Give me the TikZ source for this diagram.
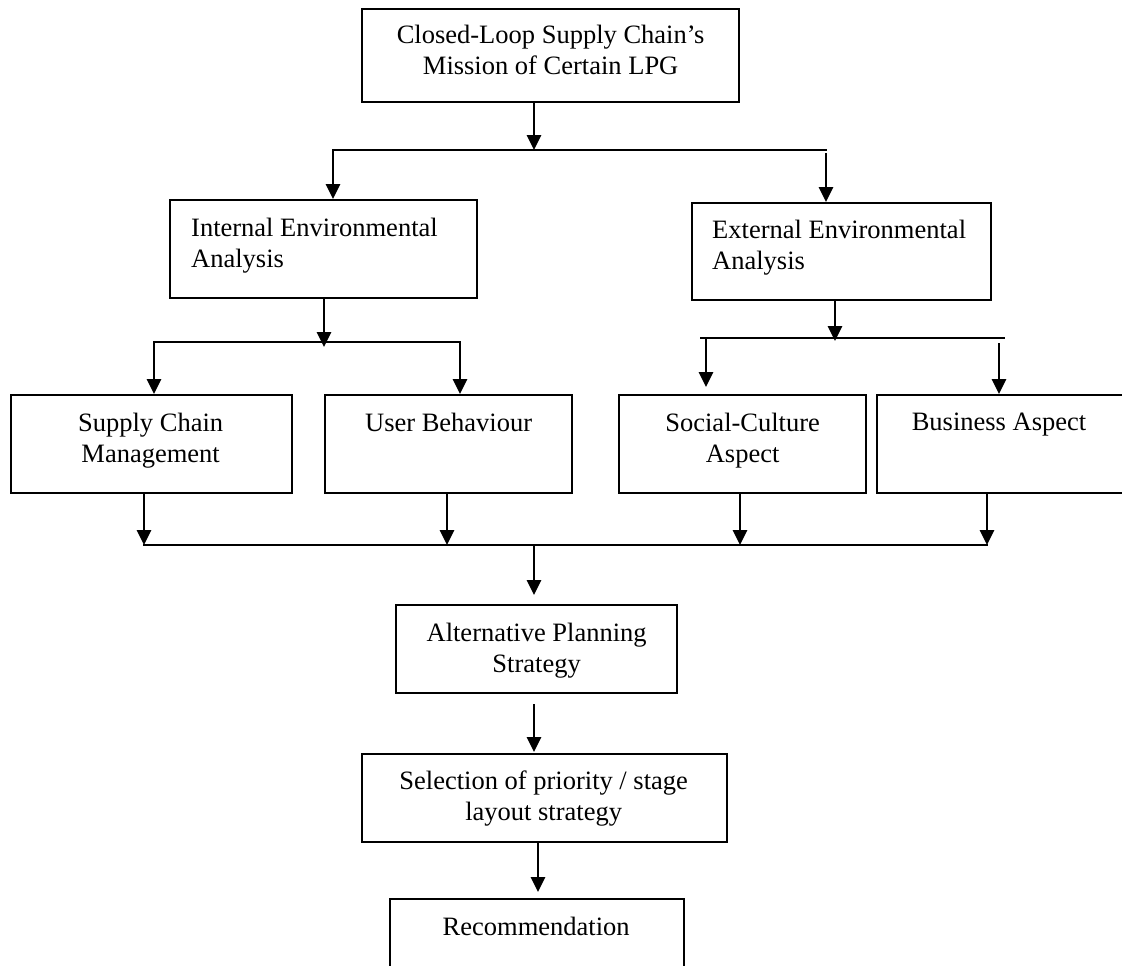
\documentclass[tikz,border=0pt]{standalone}
\usepackage{fontspec}
\setmainfont{Liberation Serif}
\usetikzlibrary{arrows.meta,calc}
\begin{document}
\begin{tikzpicture}[x=1pt,y=-1pt,
  box/.style={draw, line width=2.3pt, inner sep=0pt, anchor=north west},
  txt/.style={inner sep=0pt, font=\fontsize{26.5}{31}\selectfont, align=center, anchor=north},
  ltxt/.style={inner sep=0pt, font=\fontsize{26.5}{31}\selectfont, align=left, anchor=north west},
  arr/.style={line width=2.9pt, -{Triangle[length=15pt,width=14pt]}},
  ln/.style={line width=2.8pt, line cap=rect}]
\useasboundingbox (0,0) rectangle (1122,966);

% boxes
\node[box, minimum width=377pt, minimum height=93pt] (top) at (361,8) {};
\node[box, minimum width=307pt, minimum height=98pt] (int) at (169,199) {};
\node[box, minimum width=299pt, minimum height=97pt] (ext) at (691,202) {};
\node[box, minimum width=281pt, minimum height=98pt] (scm) at (10,394) {};
\node[box, minimum width=247pt, minimum height=98pt] (ub) at (324,394) {};
\node[box, minimum width=247pt, minimum height=98pt] (soc) at (618,394) {};
\node[box, minimum width=250pt, minimum height=98pt] (bus) at (876,394) {};
\node[box, minimum width=281pt, minimum height=88pt] (alt) at (395,604) {};
\node[box, minimum width=365pt, minimum height=88pt] (sel) at (361,753) {};
\node[box, minimum width=294pt, minimum height=100pt] (rec) at (389,898) {};

% texts
\node[txt] (ttop) at ($(top.north)+(0,17)$) {Closed-Loop Supply Chain’s\\Mission of Certain LPG};
\node[ltxt] (tint) at ($(int.north west)+(22,19)$) {Internal Environmental\\Analysis};
\node[ltxt] (text) at ($(ext.north west)+(21,18)$) {External Environmental\\Analysis};
\node[txt] (tscm) at ($(scm.north)+(-1,19)$) {Supply Chain\\Management};
\node[txt] (tub) at ($(ub.north)+(0,19)$) {User Behaviour};
\node[txt] (tsoc) at ($(soc.north)+(0,19)$) {Social-Culture\\Aspect};
\node[txt] (tbus) at (999,413) {Business Aspect};
\node[txt] (talt) at ($(alt.north)+(0,19)$) {Alternative Planning\\Strategy};
\node[txt] (tsel) at ($(sel.north)+(-1,18)$) {Selection of priority / stage\\layout strategy};
\node[txt] (trec) at ($(rec.north)+(-1,19)$) {Recommendation};

% level 1 split
\coordinate (c1) at (534,150);
\coordinate (c1l) at (333,150);
\coordinate (c1r) at (826,150);
\draw[arr] (top.south -| c1) -- (c1);
\draw[ln] (c1l) -- (c1r);
\draw[arr] (c1l) -- (c1l |- int.north);
\draw[arr] ($(c1r)+(0,3)$) -- (c1r |- ext.north);

% internal split
\coordinate (c2) at (324,347);
\coordinate (c2l) at (154,342);
\coordinate (c2r) at (460,342);
\draw[arr] (int.south -| c2) -- (c2);
\draw[ln] (c2l) -- (c2r);
\draw[arr] (c2l) -- (c2l |- scm.north);
\draw[arr] (c2r) -- (c2r |- ub.north);

% external split
\coordinate (c3) at (835,341);
\coordinate (c3l) at (700,338);
\coordinate (c3r) at (1005,338);
\coordinate (c3a) at (706,338);
\coordinate (c3b) at (999,343);
\draw[arr] (ext.south -| c3) -- (c3);
\draw[line width=2.2pt] (c3l) -- (c3r);
\draw[arr] (c3a) -- ($(c3a |- soc.north)+(0,-7)$);
\draw[arr] (c3b) -- (c3b |- bus.north);

% merge
\coordinate (b1) at (144,545);
\coordinate (b2) at (447,545);
\coordinate (b3) at (740,545);
\coordinate (b4) at (987,545);
\coordinate (b0) at (534,545);
\draw[arr] (scm.south -| b1) -- (b1);
\draw[arr] (ub.south -| b2) -- (b2);
\draw[arr] (soc.south -| b3) -- (b3);
\draw[arr] (bus.south -| b4) -- (b4);
\draw[ln] (b1) -- (b4);
\draw[arr] (b0) -- ($(b0 |- alt.north)+(0,-9)$);

% lower chain
\draw[arr] ($(alt.south -| b0)+(0,10)$) -- ($(b0 |- sel.north)+(0,-1)$);
\coordinate (s0) at (538,841);
\draw[arr] (sel.south -| s0) -- ($(s0 |- rec.north)+(0,-6)$);
\end{tikzpicture}
\end{document}
